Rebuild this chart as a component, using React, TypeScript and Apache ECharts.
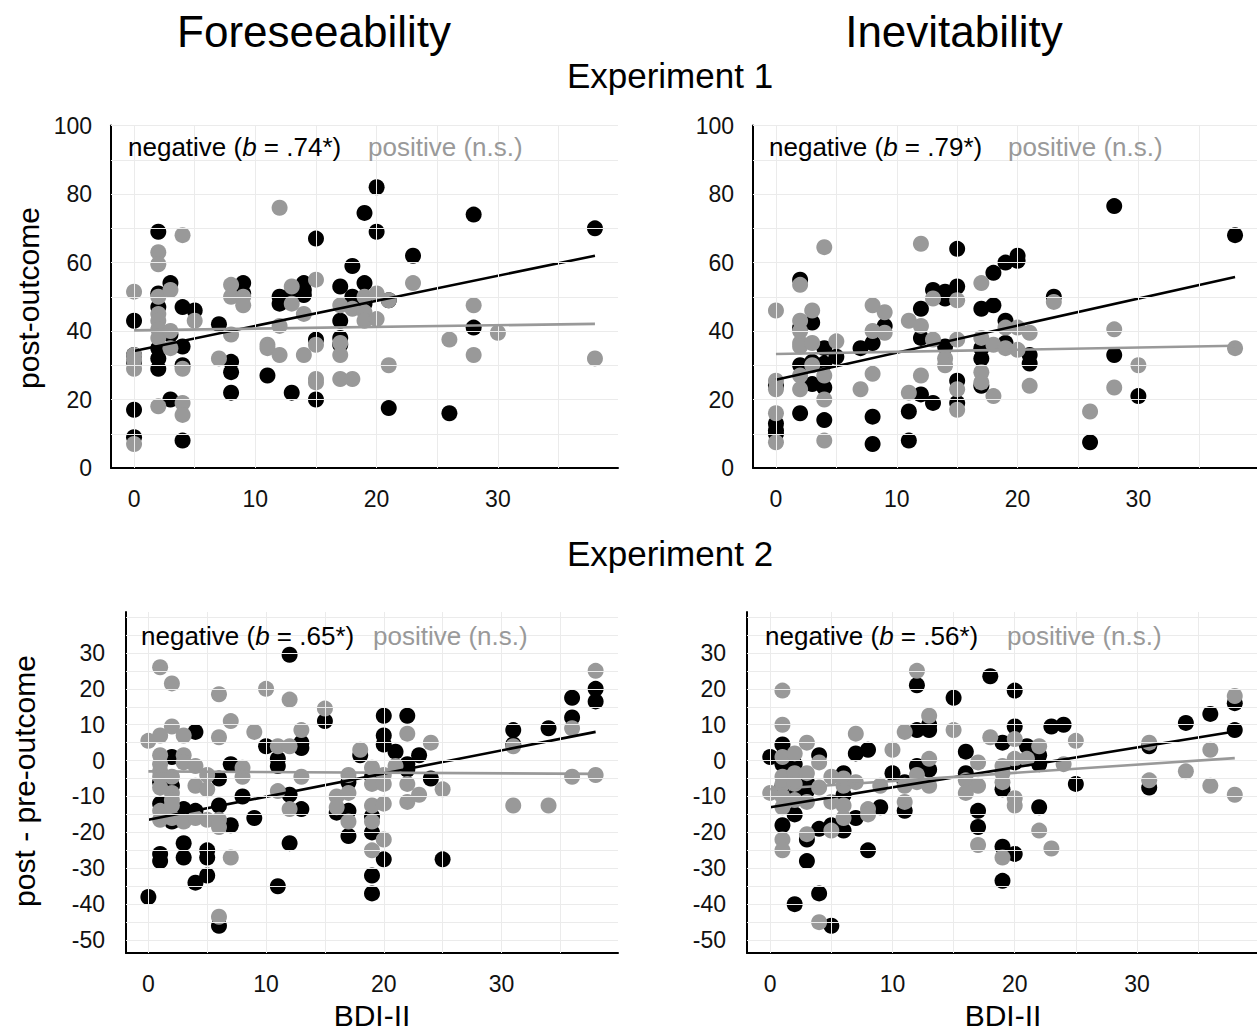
import React, { useEffect, useRef } from "react";
import * as echarts from "echarts";

// ---------- tick labels & grid lines ----------
const xTickLabels = [0, 10, 20, 30];
const xGridValues = [0, 5, 10, 15, 20, 25, 30, 35];
const e1YTickLabels = [0, 20, 40, 60, 80, 100];
const e1YGridValues = [10, 20, 30, 40, 50, 60, 70, 80, 90, 100];
const e2YTickLabels = [-50, -40, -30, -20, -10, 0, 10, 20, 30];
const e2YGridValues = [-50, -45, -40, -35, -30, -25, -20, -15, -10, -5, 0, 5, 10, 15, 20, 25, 30, 35, 40];
const xRange = [-1.9, 39.9];
const e1YRange = [0, 100];
const e2YRange = [-53.6, 41.4];

// ---------- Experiment 1, Foreseeability ----------
const e1ForeNeg = [
  [0, 43], [0, 33], [0, 31], [0, 17], [0, 9],
  [2, 69], [2, 51], [2, 47], [2, 35], [2, 32], [2, 29],
  [3, 54], [3, 39], [3, 20],
  [4, 47], [4, 35.5], [4, 30], [4, 8],
  [5, 46], [7, 42],
  [8, 31], [8, 28], [8, 22],
  [9, 54], [9, 51], [11, 27],
  [12, 50], [12, 48], [13, 51], [13, 22],
  [14, 54], [14, 52], [14, 50.5],
  [15, 67], [15, 37.5], [15, 20],
  [17, 53], [17, 43], [17, 38], [17, 36],
  [18, 59], [18, 50],
  [19, 74.5], [19, 54], [19, 48],
  [20, 82], [20, 69],
  [21, 49], [21, 17.5], [23, 62], [26, 16],
  [28, 74], [28, 41], [38, 70],
];
const e1ForePos = [
  [0, 51.5], [0, 33], [0, 31.5], [0, 29], [0, 7],
  [2, 63], [2, 59.5], [2, 50], [2, 45], [2, 43], [2, 40.5], [2, 38], [2, 18],
  [3, 52], [3, 40], [3, 35],
  [4, 68], [4, 29], [4, 19], [4, 15.5],
  [5, 43], [7, 32],
  [8, 53.5], [8, 50], [8, 39],
  [9, 50], [9, 47.5],
  [11, 36], [11, 35],
  [12, 76], [12, 41.5], [12, 33],
  [13, 53], [13, 48], [14, 45], [14, 33],
  [15, 55], [15, 36], [15, 26], [15, 25],
  [17, 47.5], [17, 36.5], [17, 33], [17, 26],
  [18, 46.5], [18, 26],
  [19, 50], [19, 45.5], [19, 43],
  [20, 51], [20, 43.5],
  [21, 49], [21, 30], [23, 54], [26, 37.5],
  [28, 47.5], [28, 33], [30, 39.5], [38, 32],
];
const e1ForeNegFit = [[0, 34.2], [38, 62]];
const e1ForePosFit = [[0, 40.2], [38, 42.1]];

// ---------- Experiment 1, Inevitability ----------
const e1InevNeg = [
  [0, 24], [0, 13], [0, 11], [0, 10],
  [2, 55], [2, 41], [2, 30], [2, 16],
  [3, 42.5], [3, 31], [3, 24.5],
  [4, 35], [4, 30.5], [4, 23.5], [4, 14],
  [5, 32.5], [7, 35],
  [8, 36.5], [8, 15], [8, 7],
  [9, 41.5], [11, 16.5], [11, 8],
  [12, 46.5], [12, 38], [12, 21.5],
  [13, 52], [13, 19],
  [14, 51.5], [14, 49.5], [14, 35.5],
  [15, 64], [15, 53], [15, 25.5], [15, 19],
  [17, 46.5], [17, 35], [17, 32], [17, 24],
  [18, 57], [18, 47.5],
  [19, 60], [19, 43], [19, 36.5],
  [20, 62], [20, 60.5],
  [21, 33], [21, 30.5], [23, 50], [26, 7.5],
  [28, 76.5], [28, 33], [30, 21], [38, 68],
];
const e1InevPos = [
  [0, 46], [0, 25.5], [0, 23], [0, 16], [0, 7.5],
  [2, 53.5], [2, 43], [2, 40], [2, 36.5], [2, 35.5], [2, 27], [2, 23],
  [3, 46], [3, 36.5], [3, 30],
  [4, 64.5], [4, 27], [4, 20], [4, 8],
  [5, 37], [7, 23],
  [8, 47.5], [8, 40], [8, 27.5],
  [9, 45.5], [9, 39.5],
  [11, 43], [11, 22],
  [12, 65.5], [12, 41.5], [12, 27],
  [13, 49.5], [13, 37.5], [14, 32], [14, 30],
  [15, 49], [15, 37.5], [15, 23], [15, 17],
  [17, 54], [17, 38], [17, 28], [17, 25],
  [18, 36], [18, 21], [19, 41], [19, 35],
  [20, 41], [20, 34.5], [21, 39.5], [21, 24],
  [23, 48.5], [26, 16.5], [28, 40.5], [28, 23.5],
  [30, 30], [38, 35],
];
const e1InevNegFit = [[0, 25.8], [38, 55.8]];
const e1InevPosFit = [[0, 33.3], [38, 35.7]];

// ---------- Experiment 2, Foreseeability ----------
const e2ForeNeg = [
  [0, -38],
  [1, -6], [1, -12], [1, -26], [1, -28],
  [2, 1], [2, -7], [2, -14.5], [2, -17],
  [3, -13.5], [3, -15], [3, -23], [3, -27],
  [4, 8], [4, -14], [4, -34],
  [5, -25], [5, -27], [5, -32],
  [6, -5], [6, -12.5], [6, -46],
  [7, -1], [7, -18], [8, -10], [9, -16], [10, 4],
  [11, 0.5], [11, -1.5], [11, -35],
  [12, 29.5], [12, -9.5], [12, -23],
  [13, 5], [13, 3.5], [13, -13.5],
  [15, 11], [16, -14.5],
  [17, -6], [17, -14], [17, -21], [18, 1.5],
  [19, -4.5], [19, -15.5], [19, -20], [19, -32], [19, -37],
  [20, 12.5], [20, 7], [20, 4.5], [20, -27.5],
  [21, 2.5], [22, 12.5], [22, -1], [22, -2.5],
  [23, 1.5], [24, -5], [25, -27.5],
  [31, 8.5], [31, 4.5], [34, 9],
  [36, 17.5], [36, 12], [38, 20], [38, 16.5],
];
const e2ForePos = [
  [0, 5.5],
  [1, 26], [1, 7], [1, 1.5], [1, -1], [1, -3], [1, -4.5], [1, -7.5], [1, -14], [1, -16.5],
  [2, 21.5], [2, 9.5], [2, -4.5], [2, -9], [2, -11], [2, -12.5], [2, -16],
  [3, 7], [3, 1.5], [3, -0.5], [3, -17],
  [4, -1.5], [4, -7], [4, -16],
  [5, -4], [5, -8], [5, -16.5],
  [6, 18.5], [6, 6.5], [6, -16.5], [6, -18.5], [6, -43.5],
  [7, 11], [7, -27], [8, -2], [8, -4.5], [9, 8], [10, 20],
  [11, 4], [11, -8.5], [12, 17], [12, 4], [12, -13.5],
  [13, 8.5], [13, -4.5], [15, 14.5], [16, -10], [16, -13],
  [17, -4], [17, -9], [17, -17], [18, 3],
  [19, -2], [19, -6.5], [19, -12.5], [19, -17], [19, -25],
  [20, -4], [20, -6.5], [20, -12], [20, -22],
  [21, -1.5], [22, 7.5], [22, -6.5], [22, -11.5],
  [23, -9.5], [24, 5], [25, -8],
  [31, 4], [31, -12.5], [34, -12.5],
  [36, 9], [36, -4.5], [38, 25], [38, -4],
];
const e2ForeNegFit = [[0, -16.5], [38, 8]];
const e2ForePosFit = [[0, -3], [38, -3.7]];

// ---------- Experiment 2, Inevitability ----------
const e2InevNeg = [
  [0, 1],
  [1, 4.5], [1, -1], [1, -7], [1, -18],
  [2, -1], [2, -10], [2, -15], [2, -40],
  [3, -6], [3, -8.5], [3, -22], [3, -28],
  [4, 1.5], [4, -19], [4, -37],
  [5, -18], [5, -46],
  [6, -3.5], [6, -9.5], [6, -19.5],
  [7, 2], [7, -16], [8, 3], [8, -25],
  [9, -13], [10, -3.5], [11, -6], [11, -14],
  [12, 21], [12, 8.5], [12, -1.5],
  [13, 10], [13, 8.5], [13, -2.5],
  [15, 17.5], [16, 2.5], [16, -3.5],
  [17, -14], [17, -18.5], [18, 23.5],
  [19, 5], [19, -8], [19, -24], [19, -33.5],
  [20, 19.5], [20, 9.5], [20, -0.5], [20, -26],
  [21, 4], [22, 1.5], [22, -1], [22, -13],
  [23, 9.5], [24, 10], [25, -6.5],
  [31, 4], [31, -7.5], [34, 10.5], [36, 13],
  [38, 16], [38, 8.5],
];
const e2InevPos = [
  [0, -9],
  [1, 19.5], [1, 10], [1, 1], [1, -4.5], [1, -6.5], [1, -10], [1, -13], [1, -22], [1, -25],
  [2, 2], [2, -3.5], [2, -6.5], [2, -11],
  [3, 5], [3, -3.5], [3, -11.5], [3, -20.5],
  [4, -0.5], [4, -7.5], [4, -45],
  [5, -4.5], [5, -11.5], [5, -19.5],
  [6, -5], [6, -7], [6, -12.5], [6, -16],
  [7, 7.5], [7, -6], [8, -13.5], [8, -15],
  [9, -7], [10, 3],
  [11, 8], [11, -7], [11, -11.5],
  [12, 25], [12, -4], [12, -6],
  [13, 12.5], [13, 0.5], [13, -7],
  [15, 8.5], [16, -5.5], [16, -9],
  [17, -0.5], [17, -7], [17, -23.5], [18, 6.5],
  [19, -1.5], [19, -3.5], [19, -6], [19, -27],
  [20, 6], [20, 0.5], [20, -10.5], [20, -12.5],
  [21, 0.5], [22, 4], [22, -19.5], [23, -24.5],
  [24, -1], [25, 5.5], [31, 5], [31, -5.5],
  [34, -3], [36, 3], [36, -7], [38, 18], [38, -9.5],
];
const e2InevNegFit = [[0, -13], [38, 8.1]];
const e2InevPosFit = [[0, -8], [38, 0.7]];

const FONT = "'Liberation Sans', Arial, Helvetica, sans-serif";
const BLACK = "#000000";
const GREY = "#999999";

const panels = [
  {
    neg: e1ForeNeg, pos: e1ForePos, negFit: e1ForeNegFit, posFit: e1ForePosFit,
    grid: { left: 111, top: 125.6, width: 507, height: 342.4 },
    yRange: e1YRange, yTicks: e1YTickLabels, yGrid: e1YGridValues, yMargin: 19,
    b: ".74*", notePos: [128, 368, 147],
  },
  {
    neg: e1InevNeg, pos: e1InevPos, negFit: e1InevNegFit, posFit: e1InevPosFit,
    grid: { left: 753, top: 125.6, width: 505, height: 342.4 },
    yRange: e1YRange, yTicks: e1YTickLabels, yGrid: e1YGridValues, yMargin: 19,
    b: ".79*", notePos: [769, 1008, 147],
  },
  {
    neg: e2ForeNeg, pos: e2ForePos, negFit: e2ForeNegFit, posFit: e2ForePosFit,
    grid: { left: 126, top: 612, width: 492, height: 341 },
    yRange: e2YRange, yTicks: e2YTickLabels, yGrid: e2YGridValues, yMargin: 21,
    b: ".65*", notePos: [141, 373, 636],
  },
  {
    neg: e2InevNeg, pos: e2InevPos, negFit: e2InevNegFit, posFit: e2InevPosFit,
    grid: { left: 747, top: 612, width: 511, height: 341 },
    yRange: e2YRange, yTicks: e2YTickLabels, yGrid: e2YGridValues, yMargin: 21,
    b: ".56*", notePos: [765, 1007, 636],
  },
];

function buildOption() {
  const grids: any[] = [];
  const xAxes: any[] = [];
  const yAxes: any[] = [];
  const series: any[] = [];
  const graphics: any[] = [];

  panels.forEach((p, i) => {
    grids.push({ ...p.grid, containLabel: false, outerBoundsMode: "none" });
    xAxes.push({
      type: "value", gridIndex: i, min: xRange[0], max: xRange[1],
      axisLine: { show: true, onZero: false, lineStyle: { color: BLACK, width: 2 } },
      axisTick: { show: false },
      splitLine: { show: false },
      axisLabel: {
        customValues: xTickLabels, color: "#111", fontSize: 23, fontFamily: FONT, margin: 19,
      },
    });
    yAxes.push({
      type: "value", gridIndex: i, min: p.yRange[0], max: p.yRange[1],
      axisLine: { show: true, onZero: false, lineStyle: { color: BLACK, width: 2 } },
      axisTick: { show: false },
      splitLine: { show: false },
      axisLabel: {
        customValues: p.yTicks, color: "#111", fontSize: 23, fontFamily: FONT, margin: p.yMargin,
      },
    });
    // light grid lines through the axis scales
    series.push({
      type: "line", xAxisIndex: i, yAxisIndex: i, z: 1, silent: true,
      data: [[xGridValues[0], p.yGrid[0]]], symbol: "none",
      lineStyle: { opacity: 0 },
      markLine: {
        silent: true, symbol: ["none", "none"], label: { show: false },
        emphasis: { disabled: true },
        lineStyle: { color: "#ebebeb", width: 1, type: "solid" },
        data: [
          ...xGridValues.map((v) => ({ xAxis: v })),
          ...p.yGrid.map((v) => ({ yAxis: v })),
        ],
      },
    });
    series.push({
      type: "scatter", xAxisIndex: i, yAxisIndex: i, z: 2, data: p.neg,
      symbolSize: 16, itemStyle: { color: BLACK, opacity: 1 }, emphasis: { disabled: true },
    });
    series.push({
      type: "scatter", xAxisIndex: i, yAxisIndex: i, z: 3, data: p.pos,
      symbolSize: 16, itemStyle: { color: GREY, opacity: 1 }, emphasis: { disabled: true },
    });
    series.push({
      type: "line", xAxisIndex: i, yAxisIndex: i, z: 4, data: p.negFit, symbol: "none",
      lineStyle: { color: BLACK, width: 2.6 }, emphasis: { disabled: true },
    });
    series.push({
      type: "line", xAxisIndex: i, yAxisIndex: i, z: 5, data: p.posFit, symbol: "none",
      lineStyle: { color: GREY, width: 2.6 }, emphasis: { disabled: true },
    });
    graphics.push({
      type: "text", x: p.notePos[0], y: p.notePos[2], z: 10,
      style: {
        text: "negative ({i|b} = " + p.b + ")",
        fill: BLACK, fontSize: 26, fontFamily: FONT, align: "left", verticalAlign: "middle",
        rich: { i: { fontStyle: "italic", fontSize: 26, fontFamily: FONT, fill: BLACK } },
      },
    });
    graphics.push({
      type: "text", x: p.notePos[1], y: p.notePos[2], z: 10,
      style: {
        text: "positive (n.s.)", fill: GREY, fontSize: 26, fontFamily: FONT,
        align: "left", verticalAlign: "middle",
      },
    });
  });

  const t = (text: string, x: number, y: number, size: number, rotation = 0) => ({
    type: "text", x, y, rotation, z: 10,
    style: { text, fill: BLACK, fontSize: size, fontFamily: FONT, align: "center", verticalAlign: "middle" },
  });
  graphics.push(t("Foreseeability", 314, 31, 44));
  graphics.push(t("Inevitability", 954, 31, 44));
  graphics.push(t("Experiment 1", 670, 75, 35));
  graphics.push(t("Experiment 2", 670, 553, 35));
  graphics.push(t("post-outcome", 28, 298, 30, Math.PI / 2));
  graphics.push(t("post - pre-outcome", 24, 781, 30, Math.PI / 2));
  graphics.push(t("BDI-II", 372, 1015, 30));
  graphics.push(t("BDI-II", 1003, 1015, 30));

  return {
    animation: false,
    backgroundColor: "#ffffff",
    grid: grids,
    xAxis: xAxes,
    yAxis: yAxes,
    series,
    graphic: graphics,
  };
}

export default function App() {
  const ref = useRef<HTMLDivElement>(null);
  useEffect(() => {
    if (!ref.current) return;
    const chart = echarts.init(ref.current, null, { renderer: "svg" });
    chart.setOption(buildOption() as any);
    return () => chart.dispose();
  }, []);
  return (
    <div
      ref={ref}
      style={{ position: "absolute", left: 0, top: 0, width: 1257, height: 1032, background: "#fff" }}
    />
  );
}
